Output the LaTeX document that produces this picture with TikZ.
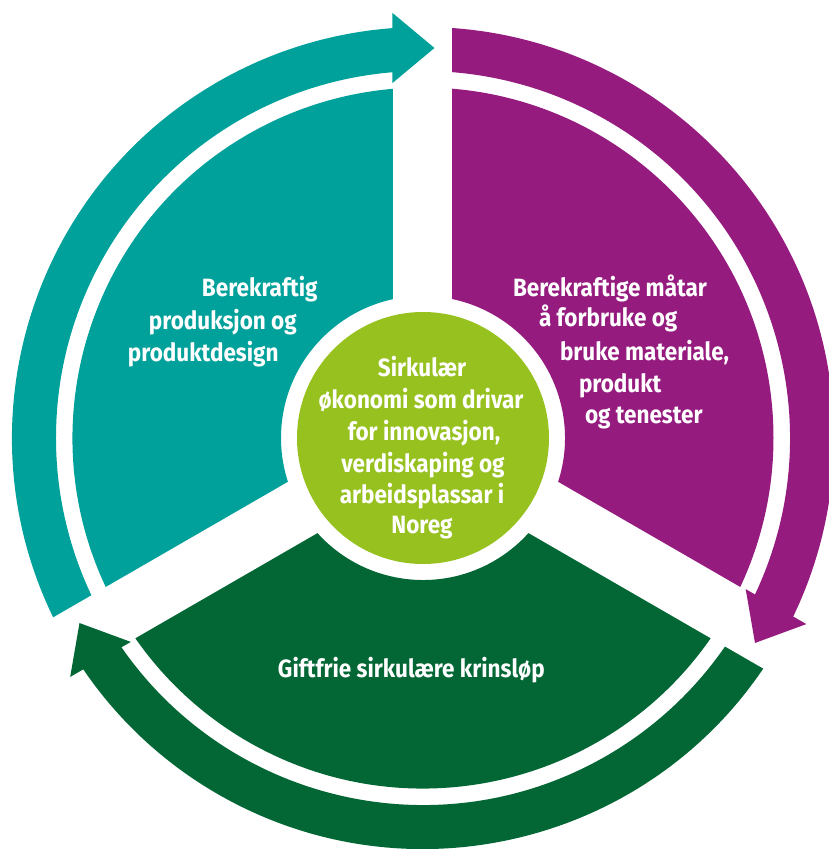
\documentclass[tikz,border=0pt]{standalone}
\usepackage{fontspec}
\setmainfont{Fira Sans}[FakeStretch=0.9]
\definecolor{cTeal}{RGB}{0,161,154}
\definecolor{cPurple}{RGB}{149,27,127}
\definecolor{cGreen}{RGB}{2,103,52}
\definecolor{cLime}{RGB}{150,193,31}
\tikzset{
  lbl/.style={inner sep=0pt, outer sep=0pt, text=white, font=\fontsize{25}{32}\selectfont\bfseries},
}
\begin{document}
\begin{tikzpicture}[x=1pt,y=1pt]
\useasboundingbox (-423,-411) rectangle (405,438);
% sectors and arrow bands
\foreach \s/\e/\c in {90/210/cTeal, -30/90/cPurple, 210/330/cGreen}{
  \fill[\c] (\s:142) arc[start angle=\s, end angle=\e, radius=142]
     -- (\e:350.5) arc[start angle=\e, end angle=\s, radius=350.5] -- cycle;
  \fill[\c] (\s:367) arc[start angle=\s, end angle=\e, radius=367]
     -- (\e:411) arc[start angle=\e, end angle=\s, radius=411] -- cycle;
}
% white gaps
\foreach \a in {0,-120,120}{
  \fill[white, rotate=\a] (-29.5,0) rectangle (29.5,445);
}
% arrow heads
\foreach \a/\c in {0/cTeal, -120/cPurple, 120/cGreen}{
  \fill[\c, rotate=\a] (-30.5,355) -- (-30.5,425) -- (11.5,390) -- cycle;
}
% centre
\fill[cLime] (0,0) circle (126);
\node[lbl, anchor=base] (c1) at (-1,62) {Sirkulær};
\node[lbl, anchor=base] (c2) at (-2,30) {økonomi som drivar};
\node[lbl, anchor=base] (c3) at (1,-2) {for innovasjon,};
\node[lbl, anchor=base] (c4) at (0,-34) {verdiskaping og};
\node[lbl, anchor=base] (c5) at (-1,-65) {arbeidsplassar i};
\node[lbl, anchor=base] (c6) at (-1,-95) {Noreg};
% left
\node[lbl, anchor=base west] (l1) at (-221,141) {Berekraftig};
\node[lbl, anchor=base west] (l2) at (-274,109) {produksjon og};
\node[lbl, anchor=base west] (l3) at (-295,77) {produktdesign};
% right
\node[lbl, anchor=base west] (r1) at (90,142) {Berekraftige måtar};
\node[lbl, anchor=base west] (r2) at (116,111) {å forbruke og};
\node[lbl, anchor=base west] (r3) at (137,78) {bruke materiale,};
\node[lbl, anchor=base west] (r4) at (156,46) {produkt};
\node[lbl, anchor=base west] (r5) at (162,15) {og tenester};
% bottom
\node[lbl, anchor=base west] (b1) at (-145,-239) {Giftfrie sirkulære krinsløp};
\end{tikzpicture}
\end{document}
